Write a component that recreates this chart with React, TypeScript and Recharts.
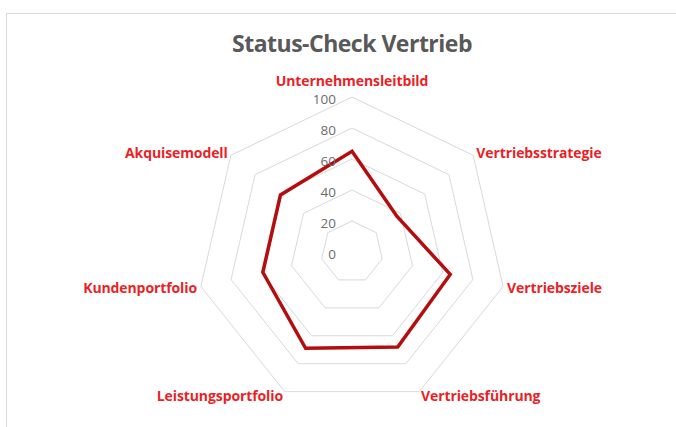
import React from 'react';
import { RadarChart, Radar, PolarGrid, PolarAngleAxis, PolarRadiusAxis } from 'recharts';

const categories = [
  'Unternehmensleitbild',
  'Vertriebsstrategie',
  'Vertriebsziele',
  'Vertriebsführung',
  'Leistungsportfolio',
  'Kundenportfolio',
  'Akquisemodell',
];
const scores = [65, 37, 65, 68, 69, 59, 59];
const radiusTicks = [0, 20, 40, 60, 80, 100];

const data = categories.map((name, i) => ({ name, score: scores[i] }));

const CategoryTick = (props: any) => {
  const { x, y, textAnchor, payload, index } = props;
  const dy = index === 0 ? -13 : 0;
  return (
    <text
      x={x}
      y={y + dy}
      textAnchor={textAnchor}
      dominantBaseline="central"
      fill="#ea1f27"
      fontSize={14}
      fontWeight={700}
      letterSpacing={-0.1}
      fontFamily="'Open Sans', sans-serif"
    >
      {payload.value}
    </text>
  );
};

const RadiusTick = (props: any) => {
  const { x, y, payload } = props;
  return (
    <text
      x={x - 16}
      y={y + 2}
      textAnchor="end"
      dominantBaseline="central"
      fill="#6d6d6d"
      fontSize={13.5}
      fontFamily="'Open Sans', sans-serif"
    >
      {payload.value}
    </text>
  );
};

export default function App() {
  return (
    <div style={{ position: 'absolute', left: 0, top: 0, width: 676, height: 427, background: '#fff', overflow: 'hidden' }}>
      {/* sheet frame */}
      <div style={{ position: 'absolute', left: 6, top: 13, right: 0, height: 1, background: '#d9d9d9' }} />
      <div style={{ position: 'absolute', left: 6, top: 13, bottom: 0, width: 1, background: '#d9d9d9' }} />
      <div
        style={{
          position: 'absolute',
          left: 0,
          width: 704,
          top: 27,
          textAlign: 'center',
          fontFamily: "'Open Sans', sans-serif",
          fontWeight: 700,
          fontSize: 23,
          letterSpacing: -0.5,
          color: '#595959',
        }}
      >
        Status-Check Vertrieb
      </div>
      <RadarChart
        width={676}
        height={427}
        data={data}
        cx={352}
        cy={252}
        outerRadius={155}
        style={{ position: 'absolute', left: 0, top: 0 }}
      >
        <PolarGrid gridType="polygon" radialLines={false} stroke="#d9d9d9" strokeWidth={1} />
        <PolarAngleAxis dataKey="name" tick={<CategoryTick />} tickSize={4} tickLine={false} axisLine={false} />
        <PolarRadiusAxis
          angle={90}
          domain={[0, 100]}
          ticks={radiusTicks}
          tickCount={6}
          axisLine={false}
          tickLine={false}
          tick={<RadiusTick />}
        />
        <Radar
          dataKey="score"
          stroke="#b50d0d"
          strokeWidth={3.5}
          fill="none"
          fillOpacity={0}
          isAnimationActive={false}
        />
      </RadarChart>
    </div>
  );
}
